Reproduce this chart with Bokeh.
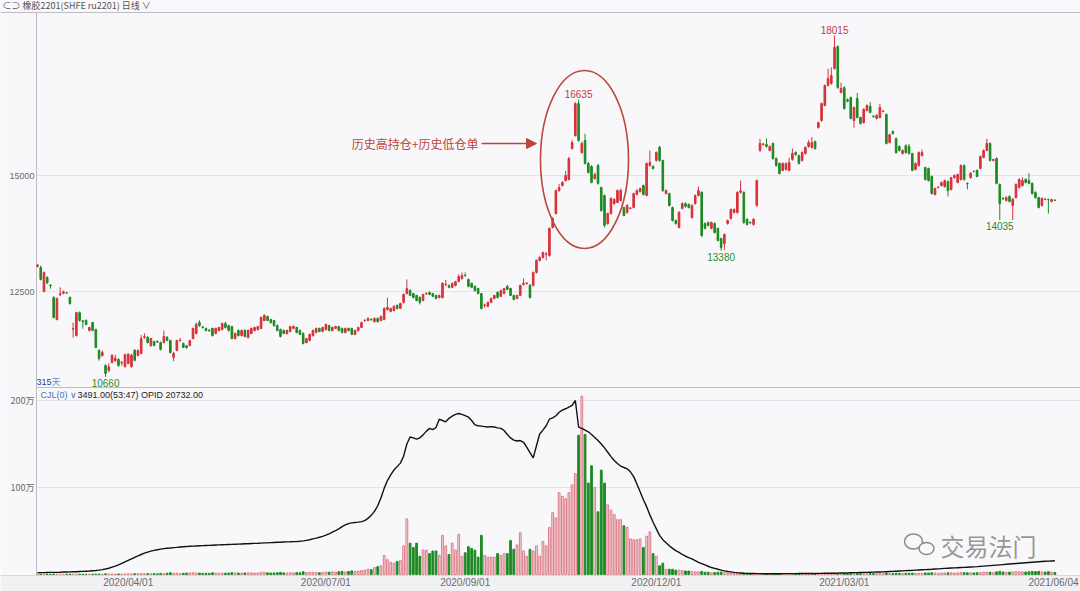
from bokeh.plotting import figure
from bokeh.models import Range1d, ColumnDataSource, Label, Arrow, NormalHead, BoxAnnotation
from bokeh.core.properties import value
from bokeh.embed import file_html
from bokeh.resources import INLINE

# ---------------- data ----------------
open_ = [
    13040,13015,12500,12800,12640,12370,11895,12430,12460,12470,
    12370,11690,11550,12045,11870,11875,11660,11830,11680,11230,
    11120,10905,10800,10970,11010,11035,10960,10880,10950,10880,
    11230,11120,11165,11510,11510,11335,11420,11420,11400,11400,
    11510,11445,11080,11230,11440,11380,11330,11335,11485,11595,
    11830,11735,11705,11665,11705,11595,11660,11680,11810,11765,
    11745,11485,11660,11550,11660,11510,11595,11660,11680,11705,
    11875,11960,11895,11875,11765,11680,11660,11595,11640,11705,
    11725,11660,11595,11400,11445,11550,11615,11705,11640,11680,
    11765,11660,11705,11745,11705,11615,11705,11705,11575,11660,
    11725,11870,11875,11900,11850,11920,11875,11895,12110,12070,
    12090,12200,12135,12265,12455,12520,12455,12415,12370,12305,
    12450,12480,12455,12415,12370,12370,12650,12630,12590,12630,
    12715,12780,12850,12760,12675,12610,12565,12455,12200,12180,
    12265,12350,12480,12395,12455,12610,12565,12415,12350,12415,
    12650,12670,12630,12630,12910,13170,13235,13300,13275,13880,
    14180,14675,14785,14890,14915,15580,15860,16550,15495,15755,
    15260,15195,14935,15215,14740,14570,13965,14180,14395,14420,
    14460,14310,14205,14290,14310,14590,14655,14785,14570,15215,
    15195,15325,15605,15325,14610,14610,14310,14030,13880,14290,
    14395,14375,14095,14395,14570,14635,13965,13985,13860,13965,
    13860,13640,13535,13965,14075,14205,14205,14635,14635,14055,
    13990,13945,14355,15540,15670,15670,15540,15690,15365,15260,
    15110,15130,15110,15345,15495,15430,15325,15475,15625,15605,
    15730,16035,16185,16510,16940,16985,17305,17780,16790,16895,
    16630,16680,16185,16660,16250,16140,16400,16490,16275,16230,
    16250,16380,16315,15710,15950,15795,15625,15475,15645,15625,
    15475,15130,15215,15430,15170,15150,14980,14590,14740,14785,
    14760,14870,14700,14955,14850,14915,15215,14830,14955,15090,
    15110,15150,15390,15540,15690,15325,15365,14805,14505,14460,
    14550,14355,14525,14740,14785,14915,14890,14830,14635,14525,
    14355,14490,14485,14440,14470,
]
high = [
    13090,13060,12930,12830,12650,12400,12370,12590,12520,12490,
    12390,11830,12060,12070,11880,11900,11740,11850,11700,11250,
    11230,10930,10950,11150,11140,11060,11000,11160,11170,11160,
    11260,11250,11560,11600,11540,11500,11440,11450,11420,11660,
    11540,11460,11200,11460,11500,11400,11350,11460,11720,11830,
    11880,11760,11720,11690,11720,11720,11740,11830,11850,11780,
    11760,11620,11680,11680,11690,11680,11720,11740,11760,11960,
    12010,11980,11910,11890,11790,11700,11680,11680,11760,11770,
    11740,11680,11620,11500,11590,11680,11720,11720,11740,11810,
    11780,11740,11760,11760,11720,11720,11720,11720,11680,11740,
    11850,11900,11940,11920,11940,11940,11980,12160,12370,12150,
    12200,12220,12260,12460,12760,12550,12470,12430,12400,12450,
    12480,12500,12470,12430,12430,12700,12750,12650,12690,12730,
    12870,12910,12910,12780,12690,12630,12580,12470,12240,12280,
    12370,12430,12500,12540,12580,12640,12580,12430,12430,12650,
    12780,12700,12660,12930,13190,13260,13360,13350,13880,14100,
    14700,14820,14880,15100,15400,15760,16580,16635,15730,15900,
    15290,15220,15060,15250,14760,14590,14200,14530,14510,14700,
    14720,14330,14380,14320,14630,14700,14740,14800,15280,15540,
    15220,15520,15640,15340,14700,14630,14330,14050,14230,14420,
    14420,14400,14380,14590,14760,14660,13990,14010,14010,13990,
    13880,13660,13750,14050,14290,14290,14660,14890,14660,14080,
    14010,14080,14910,15790,15700,15800,15650,15710,15390,15280,
    15280,15280,15380,15580,15520,15450,15520,15630,15760,15830,
    15750,16160,16570,16960,17300,17330,18015,17800,17000,16920,
    16660,16700,16490,16780,16270,16450,16530,16580,16300,16320,
    16540,16410,16340,15900,15970,15820,15650,15560,15670,15680,
    15490,15280,15520,15560,15190,15170,15000,14740,14770,14870,
    14910,14890,14970,15020,15040,15240,15240,14850,15070,15110,
    15130,15430,15560,15790,15710,15360,15390,14830,14530,14550,
    14570,14520,14830,14940,14960,14940,15050,14850,14660,14540,
    14530,14510,14500,14500,14480,
]
low = [
    13020,12740,12480,12660,12560,11920,11880,12400,12440,12450,
    12220,11510,11530,11850,11700,11770,11640,11640,11280,11010,
    11100,10660,10760,10950,10990,10880,10900,10860,10930,10860,
    11000,11100,11150,11480,11380,11310,11320,11390,11230,11380,
    11430,11165,11000,11210,11420,11280,11270,11320,11470,11580,
    11740,11700,11640,11630,11530,11580,11640,11660,11700,11640,
    11470,11470,11530,11530,11510,11490,11580,11640,11660,11690,
    11860,11860,11810,11740,11640,11510,11580,11570,11620,11690,
    11600,11560,11360,11380,11430,11530,11600,11620,11620,11660,
    11640,11640,11690,11640,11600,11600,11640,11560,11560,11640,
    11710,11850,11860,11870,11830,11830,11860,11880,12090,12050,
    12070,12110,12120,12240,12440,12400,12350,12290,12220,12290,
    12430,12420,12380,12330,12350,12350,12620,12570,12570,12610,
    12700,12760,12820,12590,12570,12500,12440,12110,12150,12160,
    12250,12330,12350,12380,12440,12530,12400,12310,12330,12400,
    12630,12650,12350,12610,12890,13150,13210,13170,13250,13860,
    14160,14650,14760,14870,14890,15560,15840,15730,15470,15240,
    15040,14830,14910,14800,14220,13880,13940,14160,14370,14400,
    14440,14120,14180,14270,14290,14570,14630,14570,14550,15190,
    15130,15300,15300,14650,14590,14330,14010,13940,13860,14270,
    14310,14290,14070,14370,14550,13680,13840,13900,13840,13750,
    13580,13380,13400,13940,14050,14180,14180,14610,13960,13920,
    13960,13920,14330,15510,15640,15600,15520,15340,15190,15020,
    15090,15110,15090,15320,15430,15240,15300,15450,15600,15580,
    15560,16010,16160,16490,16920,16960,17280,16870,16770,16420,
    16580,16210,16030,16230,16100,16120,16380,16340,16250,16210,
    16230,16360,15670,15690,15880,15470,15520,15450,15470,15450,
    15090,15110,15190,15410,14890,14870,14590,14570,14720,14760,
    14740,14550,14680,14930,14830,14890,14890,14700,14930,15070,
    14960,15130,15370,15520,15300,15300,14810,14035,14480,14440,
    14420,14040,14500,14720,14760,14830,14810,14590,14500,14290,
    14330,14470,14180,14420,14450,
]
close = [
    13070,12760,12910,12690,12625,11940,12350,12450,12490,12465,
    12240,11700,12045,11875,11850,11790,11725,11660,11295,11055,
    11185,10735,10880,11120,11060,10905,10975,11140,11150,11130,
    11015,11230,11485,11530,11400,11485,11335,11410,11250,11530,
    11445,11185,11165,11445,11450,11295,11290,11445,11705,11790,
    11765,11725,11660,11655,11550,11705,11725,11810,11725,11660,
    11485,11595,11550,11660,11530,11660,11705,11725,11745,11940,
    11985,11875,11830,11765,11660,11530,11595,11660,11745,11745,
    11615,11575,11380,11485,11575,11660,11705,11640,11725,11790,
    11660,11725,11745,11660,11615,11705,11660,11575,11660,11725,
    11830,11880,11920,11890,11920,11850,11960,12135,12155,12135,
    12180,12135,12240,12435,12565,12415,12370,12305,12265,12435,
    12460,12435,12395,12350,12415,12675,12660,12590,12675,12715,
    12825,12845,12840,12610,12590,12520,12455,12135,12210,12265,
    12350,12415,12370,12520,12565,12545,12415,12330,12415,12630,
    12680,12680,12370,12910,13170,13235,13340,13310,13860,14075,
    14675,14740,14850,15000,15365,15710,16550,15755,15690,15260,
    15065,14850,15020,14830,14245,13925,14180,14505,14485,14675,
    14675,14140,14355,14300,14610,14675,14720,14590,15260,15280,
    15150,15495,15325,14675,14675,14355,14030,13965,14205,14395,
    14335,14310,14355,14570,14675,13705,13860,13925,13985,13770,
    13600,13450,13730,14030,14265,14265,14635,14675,13985,13945,
    13980,14055,14890,15690,15680,15625,15625,15365,15215,15045,
    15260,15260,15280,15475,15450,15260,15495,15605,15710,15710,
    15580,16140,16550,16940,17090,17155,17760,16895,16875,16445,
    16600,16230,16465,16250,16120,16425,16510,16360,16265,16295,
    16465,16390,15690,15880,15905,15495,15540,15540,15495,15475,
    15110,15260,15495,15495,14915,14890,14610,14720,14750,14850,
    14890,14675,14955,15000,15020,15215,14915,14820,15045,15085,
    14980,15410,15540,15690,15325,15345,14830,14395,14495,14525,
    14440,14485,14805,14915,14890,14850,14830,14610,14525,14310,
    14505,14480,14480,14480,14465,
]
# volume (万手)
volume = [
    0.3,0.3,0.4,0.3,0.3,0.5,0.4,0.3,0.3,0.3,
    0.4,0.5,0.4,0.4,0.3,0.3,0.4,0.4,0.5,0.5,
    0.5,0.8,0.6,0.6,0.5,0.6,0.5,0.7,0.8,0.7,
    0.9,1.0,1.2,1.0,0.9,1.1,1.0,0.8,1.2,1.1,
    1.5,2.0,1.4,1.6,1.2,1.3,1.5,1.8,2.2,1.7,
    1.6,1.2,1.4,1.3,1.9,1.5,1.4,1.7,1.5,1.6,
    2.2,1.8,1.6,1.7,1.8,2.0,1.9,1.6,1.8,2.6,
    2.4,1.9,1.7,1.8,2.0,2.4,1.8,1.7,2.0,1.9,
    2.1,2.0,3.2,2.4,2.6,2.5,2.2,2.0,2.4,2.9,
    2.6,3.0,2.8,3.2,3.5,3.0,3.4,4.2,3.6,4.0,
    4.5,5.0,6.0,5.5,8.0,9.0,10.0,22,17,14,
    13,15,16,33,64,36,31,36,21,28,
    28,24,27,27,22,45,33,23,36,28,
    46,21,25,32,30,28,20,45,22,20,
    20,20,24,22,24,24,39,29,34,48,
    27,21,29,27,33,21,38,33,54,71,
    65,94,90,87,94,103,116,160,205,161,
    105,125,100,72,120,105,80,74,69,63,
    63,56,54,41,40,40,41,31,44,49,
    24,21,10,13,6,6,6,5,5,4.5,
    4,4,3.5,3,3,3.5,2.5,2.5,2,2.2,
    2.5,2.8,2,1.8,1.6,1.5,1.6,1.4,1.5,1.2,
    1.0,0.9,1.2,0.8,0.7,0.8,0.6,0.7,0.6,0.7,
    0.6,0.5,0.6,0.7,0.6,0.5,0.6,0.7,0.8,0.6,
    0.7,0.9,1.0,1.1,0.9,1.0,1.6,1.3,0.9,1.0,
    0.9,1.0,1.1,1.0,0.9,1.1,1.2,1.0,0.9,1.1,
    1.3,1.0,1.6,1.4,1.2,1.5,1.3,1.2,1.4,1.3,
    1.6,1.4,1.5,1.3,1.8,1.6,2.0,1.7,1.5,1.6,
    1.8,1.9,2.0,1.7,1.8,2.2,2.1,1.9,2.0,1.8,
    2.0,2.4,2.6,2.8,2.6,2.2,3.0,3.6,2.8,2.6,
    2.7,3.0,3.4,3.2,3.0,2.8,3.1,3.4,3.2,3.6,
    3.0,2.8,3.2,2.6,2.4,
]
# open interest (万手)
open_interest = [
    2.0,2.1,2.2,2.3,2.4,2.4,2.5,2.6,2.8,2.9,
    3.0,3.1,3.2,3.4,3.6,3.8,4.0,4.3,4.6,5.0,
    5.6,6.3,7.2,8.4,9.6,11.0,12.8,14.5,16.2,18.0,
    19.8,21.5,23.0,24.5,25.8,26.9,27.8,28.5,29.2,29.8,
    30.2,30.5,30.9,31.2,31.6,31.9,32.1,32.4,32.6,32.8,
    33.0,33.2,33.4,33.5,33.7,33.9,34.0,34.2,34.3,34.5,
    34.6,34.8,34.9,35.1,35.3,35.4,35.6,35.8,35.9,36.1,
    36.3,36.4,36.6,36.8,37.0,37.1,37.3,37.5,37.6,37.8,
    38.0,38.3,38.7,39.2,40.0,40.9,41.8,42.8,43.9,45.2,
    46.8,48.6,50.5,52.5,55.0,57.0,58.5,59.3,59.8,60.2,
    60.8,62.0,64.5,68.0,72.5,79.0,88.0,99.0,108.0,114.5,
    120.0,124.0,128.0,136.0,150.0,158.0,157.0,155.5,157.0,160.5,
    164.5,168.0,166.5,169.0,178.5,177.0,175.5,179.5,182.0,184.0,
    185.0,184.0,182.5,181.0,177.0,172.0,171.0,170.5,170.0,169.5,
    170.0,169.5,168.5,168.0,165.5,161.0,157.0,154.5,153.5,154.0,
    152.0,146.5,140.0,134.0,148.0,161.5,166.0,171.0,178.5,180.0,
    182.5,186.5,189.0,190.5,192.5,194.5,200.0,169.5,168.0,166.0,
    164.0,161.0,157.5,154.0,150.0,145.5,140.5,135.5,131.0,127.5,
    124.5,123.0,121.5,118.0,112.5,104.0,95.0,86.0,78.0,68.5,
    60.0,52.5,45.0,40.0,36.5,33.0,30.0,27.5,25.5,23.0,
    21.0,19.5,18.0,16.0,14.0,12.5,11.0,9.5,8.0,7.0,
    6.0,5.0,4.2,3.5,3.0,2.5,2.1,1.8,1.5,1.3,
    1.2,1.1,1.0,1.0,0.9,0.9,0.9,0.9,0.9,0.9,
    1.0,1.0,1.0,1.0,1.0,1.1,1.1,1.1,1.2,1.2,
    1.2,1.3,1.3,1.4,1.4,1.5,1.5,1.6,1.7,1.8,
    1.9,2.0,2.1,2.2,2.3,2.4,2.5,2.6,2.7,2.8,
    2.9,3.0,3.2,3.4,3.6,3.8,4.0,4.2,4.4,4.6,
    4.8,5.0,5.2,5.4,5.6,5.8,6.0,6.3,6.5,6.8,
    7.0,7.2,7.4,7.6,7.8,8.0,8.2,8.4,8.6,8.8,
    9.0,9.3,9.6,9.9,10.2,10.5,10.8,11.1,11.4,11.7,
    12.0,12.3,12.6,12.9,13.2,13.5,13.8,14.1,14.4,14.7,
    15.0,15.2,15.4,15.6,15.8,
]
date_tick_idx = [28, 89, 132, 191, 249, 314]
date_tick_labels = ["2020/04/01", "2020/07/01", "2020/09/01", "2020/12/01", "2021/03/01", "2021/06/04"]
price_ticks = [12500, 15000]
vol_ticks = [100, 200]
vol_tick_labels = ["100万", "200万"]
high_mark_idx = [167, 246]
low_mark_idx = [21, 211, 297]
n_days = len(close)

# ---------------- layout constants (page pixels; the frame fills the canvas) ----------------
W, H = 1080, 591
STEP = 3.24          # px per trading day
X0 = 37.0            # px of first day
PY15 = 175.0         # px of price 15000
PPX = 116.0 / 2500   # px per price unit
VY0 = 574.0          # px of volume 0
VPX = 0.87           # px per 万
AX_X = 36.0          # left axis line
TOP_Y = 12.0         # header line
SEP_Y = 387.0        # price / volume separator
BOT_Y = 575.0        # bottom axis line

def px2x(px):
    return (px - X0) / STEP

def py2p(py):
    return 15000 + (PY15 - py) / PPX

def py2v(py):
    return (VY0 - py) / VPX

def sy(py):          # page y -> screen units of a label (from bottom)
    return H - py

BG = "#f8f8fa"
UP = "#d8323a"
DN = "#1f8a25"
VUP_FILL = "#f6d4d8"
VUP_LINE = "#dc7e8b"
GRID = "#e3e3e9"
AXIS = "#bdbdc6"
MARK = "#c0453a"
TXT = "#6a6a6a"
FONT = "Liberation Sans"
CJK = "Noto Sans CJK SC"

p = figure(width=W, height=H, x_range=Range1d(px2x(0), px2x(W)),
           y_range=Range1d(py2p(H), py2p(0)), x_axis_type=None, y_axis_type=None,
           toolbar_location=None, output_backend="svg",
           min_border_left=0, min_border_right=0, min_border_top=0, min_border_bottom=0,
           background_fill_color=BG, border_fill_color=BG, outline_line_color=None)
p.extra_y_ranges = {"vol": Range1d(py2v(H), py2v(0))}

# bottom date band
p.add_layout(BoxAnnotation(bottom=py2v(H), top=py2v(BOT_Y), y_range_name="vol",
                           fill_color="#f1f1f4", fill_alpha=1.0, line_color=None))

# grid lines and frame lines
xl, xr = px2x(AX_X), px2x(W)
p.segment(x0=[xl] * 2, x1=[xr] * 2, y0=price_ticks, y1=price_ticks, line_color=GRID, line_width=1)
p.segment(x0=[xl] * 2, x1=[xr] * 2, y0=vol_ticks, y1=vol_ticks, line_color=GRID, line_width=1,
          y_range_name="vol")
p.segment(x0=[px2x(0)], x1=[xr], y0=[py2p(TOP_Y)], y1=[py2p(TOP_Y)], line_color=AXIS, line_width=1)
p.segment(x0=[xl], x1=[xr], y0=[py2p(SEP_Y)], y1=[py2p(SEP_Y)], line_color=AXIS, line_width=1)
p.segment(x0=[px2x(0)], x1=[xr], y0=[py2p(BOT_Y)], y1=[py2p(BOT_Y)], line_color=AXIS, line_width=1)
p.segment(x0=[xl], x1=[xl], y0=[py2p(TOP_Y)], y1=[py2p(BOT_Y)], line_color=AXIS, line_width=1)

# candles
idx = list(range(n_days))
is_up = [c >= o for o, c in zip(open_, close)]
src = ColumnDataSource(dict(
    x=idx, o=open_, h=high, l=low, c=close,
    top=[max(o, c) for o, c in zip(open_, close)],
    bot=[min(o, c) for o, c in zip(open_, close)],
    col=[UP if u else DN for u in is_up],
    vol=volume,
    vfill=[VUP_FILL if u else DN for u in is_up],
    vline=[VUP_LINE if u else DN for u in is_up],
    oi=open_interest,
))
p.segment(x0="x", y0="l", x1="x", y1="h", source=src, line_color="col", line_width=1)
p.vbar(x="x", width=0.5, top="top", bottom="bot", source=src, fill_color="col", line_color="col", line_width=1)

# volume + open interest
p.vbar(x="x", width=0.55, top="vol", bottom=0, source=src, fill_color="vfill", line_color="vline",
       line_width=1, y_range_name="vol")
p.line(x="x", y="oi", source=src, line_color="#111111", line_width=1.4, y_range_name="vol")

# extreme value labels
p.text(x=high_mark_idx, y=[high[i] for i in high_mark_idx], text=[str(high[i]) for i in high_mark_idx],
       text_font=value(FONT), text_font_size="10px", text_color="#c23b3b", text_align="center",
       text_baseline="bottom", y_offset=-2)
p.text(x=low_mark_idx, y=[low[i] for i in low_mark_idx], text=[str(low[i]) for i in low_mark_idx],
       text_font=value(FONT), text_font_size="10px", text_color="#2a8a2a", text_align="center",
       text_baseline="top", y_offset=2)

# annotation: ellipse + arrow + text
p.ellipse(x=[px2x(584)], y=[py2p(159)], width=[88 / STEP], height=[178 / PPX],
          fill_color=None, line_color=MARK, line_width=1.6)
ay = py2p(143)
p.add_layout(Arrow(end=NormalHead(size=10, fill_color=MARK, line_color=MARK),
                   x_start=px2x(481), y_start=ay, x_end=px2x(536), y_end=ay,
                   line_color=MARK, line_width=1.6))
p.add_layout(Label(x=478, x_units="screen", y=sy(143), y_units="screen", text="历史高持仓+历史低仓单",
                   text_font=CJK, text_font_size="12px", text_color=MARK, text_align="right",
                   text_baseline="middle"))

# y tick labels
for t in price_ticks:
    p.add_layout(Label(x=34, x_units="screen", y=t, text=str(t), text_font=FONT, text_font_size="9px",
                       text_color=TXT, text_align="right", text_baseline="middle"))
for t, s in zip(vol_ticks, vol_tick_labels):
    p.add_layout(Label(x=34, x_units="screen", y=t, y_range_name="vol", text=s, text_font=CJK,
                       text_font_size="9px", text_color=TXT, text_align="right", text_baseline="middle"))

# date labels
for i, s in zip(date_tick_idx[:-1], date_tick_labels[:-1]):
    p.add_layout(Label(x=i, y=sy(582), y_units="screen", text=s, text_font=FONT, text_font_size="10px",
                       text_color=TXT, text_align="center", text_baseline="middle"))
p.add_layout(Label(x=1078, x_units="screen", y=sy(582), y_units="screen", text=date_tick_labels[-1],
                   text_font=FONT, text_font_size="10px", text_color=TXT, text_align="right",
                   text_baseline="middle"))

# header
p.add_layout(Label(x=2, x_units="screen", y=sy(5), y_units="screen",
                   text="⊂⊃ 橡胶2201(SHFE ru2201)   日线 ∨", text_font=CJK, text_font_size="9px",
                   text_color="#555555", text_align="left", text_baseline="middle"))
# panel captions
p.add_layout(Label(x=36, x_units="screen", y=sy(381), y_units="screen", text="315",
                   text_font=FONT, text_font_size="9px", text_color="#243f8e", text_baseline="middle"))
p.add_layout(Label(x=51, x_units="screen", y=sy(381), y_units="screen", text="天",
                   text_font=CJK, text_font_size="9px", text_color="#6f8fcf", text_baseline="middle"))
p.add_layout(Label(x=40, x_units="screen", y=sy(394), y_units="screen", text="CJL(0) ∨",
                   text_font=FONT, text_font_size="9px", text_color="#4a6fc0", text_baseline="middle"))
p.add_layout(Label(x=77, x_units="screen", y=sy(394), y_units="screen",
                   text="3491.00(53:47)  OPID 20732.00",
                   text_font=FONT, text_font_size="9px", text_color="#222222", text_baseline="middle"))
# watermark
p.ellipse(x=[px2x(913), px2x(926)], y=[py2v(541), py2v(548)], width=[18 / STEP, 15 / STEP],
          height=[15 / VPX, 12 / VPX], y_range_name="vol",
          fill_color=BG, line_color="#8a8a8a", line_width=1.5)
p.add_layout(Label(x=940, x_units="screen", y=sy(545), y_units="screen", text="交易法门",
                   text_font=CJK, text_font_size="24px", text_color="#858585", text_alpha=0.85,
                   text_baseline="middle"))

open("out.html", "w").write(file_html(p, INLINE))
